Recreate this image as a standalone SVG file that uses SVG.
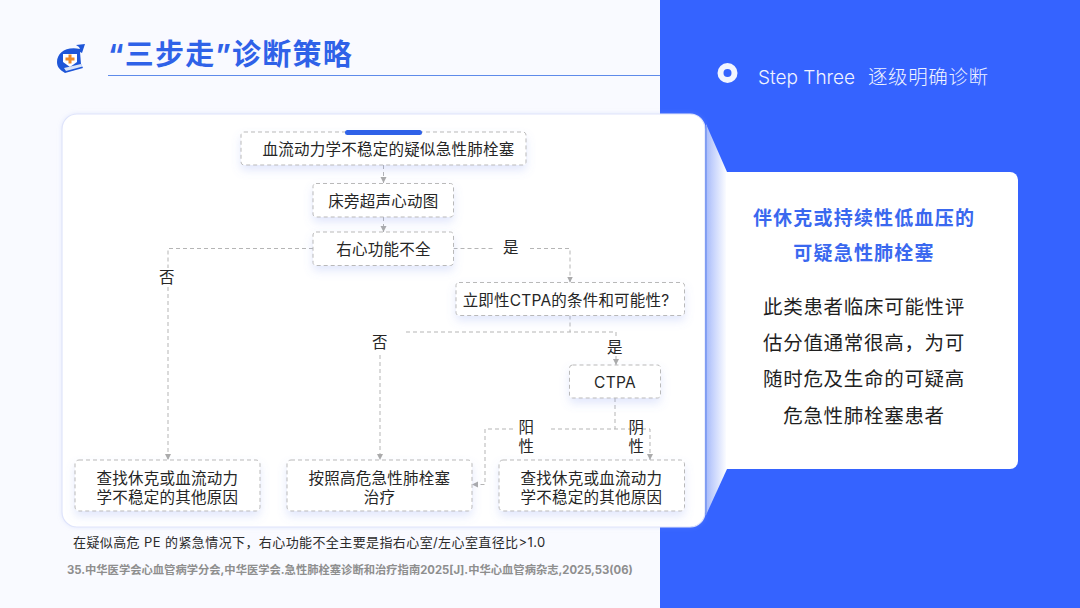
<svg xmlns="http://www.w3.org/2000/svg" width="1080" height="608" viewBox="0 0 1080 608">
<style>
text{font-family:Inter,"Noto Sans CJK SC",sans-serif;}
.c{text-anchor:middle}
.t{font-size:15.5px;fill:#262626;letter-spacing:.25px}
.box{fill:#fff;stroke:#b9b9b9;stroke-width:1;stroke-dasharray:4 3}
.ln{fill:none;stroke:#b5b5b5;stroke-width:1;stroke-dasharray:4 3}
.body{font-size:19.5px;fill:#1f1f1f;letter-spacing:.7px}
.hd{font-size:19px;font-weight:700;fill:#3a68ef;letter-spacing:1.2px}
</style>
<defs>
<filter id="sh" x="-20%" y="-30%" width="140%" height="180%"><feDropShadow dx="0" dy="5" stdDeviation="5" flood-color="#6f8cf0" flood-opacity=".2"/></filter>
<filter id="cs" x="-5%" y="-5%" width="110%" height="110%"><feDropShadow dx="0" dy="0" stdDeviation="2" flood-color="#9fb2f5" flood-opacity=".25"/></filter>
<linearGradient id="fold" x1="0" x2="1" y1="0" y2="0"><stop offset="0" stop-color="#a9bcfb"/><stop offset="1" stop-color="#ffffff"/></linearGradient>
<marker id="ar" markerUnits="userSpaceOnUse" markerWidth="7" markerHeight="7" refX="6" refY="3.5" orient="auto"><path d="M0 .5L6 3.5L0 6.500Z" fill="#ababab"/></marker>
</defs>
<rect width="1080" height="608" fill="#f9faff"/>
<rect x="660" width="420" height="608" fill="#3563ff"/>
<line x1="108" y1="75.500" x2="660" y2="75.500" stroke="#5f8bea" stroke-width="1"/>
<g id="icon">
<path d="M80 49C66 46 57 53 57 62C57 67 60 70 65 73L83 68L81 64L80 52L82 53L85 44L76 45L79 47Z" fill="#1f56d8"/>
<path d="M63 54H77V62L70 67L63 62Z" fill="#fff"/>
<path d="M68.500 54.500h3v3h3v3h-3v3h-3v-3h-3v-3h3Z" fill="#f08a24"/>
<path d="M64 68L81 64L82.500 66.500L66 71Z" fill="#dbe5fa"/>
</g>
<text x="108" y="65" style="font-size:29px;font-weight:700;fill:#2f62e8;letter-spacing:1.2px">“三步走”诊断策略</text>
<g id="step">
<circle cx="727.500" cy="73" r="10" fill="#f2f5ff"/><circle cx="727.500" cy="73" r="4" fill="#3563ff"/>
<text x="758" y="84" style="font-size:19px;font-weight:300;fill:#f0f3ff">Step Three</text>
<text x="868" y="84" style="font-size:19.500px;font-weight:300;fill:#f0f3ff;letter-spacing:.6px">逐级明确诊断</text>
</g>
<g id="fold-panel"><path d="M706 124L727 172V469L706 515Z" fill="url(#fold)"/></g>
<g id="info">
<path d="M726 172H1010A8 8 0 0 1 1018 180V461A8 8 0 0 1 1010 469H726Z" fill="#fff"/>
<text class="c hd" x="864" y="225">伴休克或持续性低血压的</text>
<text class="c hd" x="864" y="260">可疑急性肺栓塞</text>
<text class="c body" x="864" y="314">此类患者临床可能性评</text>
<text class="c body" x="864" y="350">估分值通常很高，为可</text>
<text class="c body" x="864" y="386">随时危及生命的可疑高</text>
<text class="c body" x="864" y="423">危急性肺栓塞患者</text>
</g>
<g id="panel"><rect x="62" y="114" width="643" height="413" rx="15" fill="#fff" stroke="#dfe4fb" stroke-width="1.200" filter="url(#cs)"/></g>
<line x1="706" y1="126" x2="706" y2="514" stroke="#5f84ea" stroke-width="1"/>
<g id="connectors">
<path class="ln" d="M383.500 165V183" marker-end="url(#ar)"/>
<path class="ln" d="M383.500 217V232" marker-end="url(#ar)"/>
<path class="ln" d="M313 248.500H168V268"/>
<path class="ln" d="M168 287V460" marker-end="url(#ar)"/>
<path class="ln" d="M453.500 248.500H495"/>
<path class="ln" d="M530 248.500H570V282.500" marker-end="url(#ar)"/>
<path class="ln" d="M570 315.500V332"/>
<path class="ln" d="M406 332H616V337"/>
<path class="ln" d="M616 356V365" marker-end="url(#ar)"/>
<path class="ln" d="M380 355V460" marker-end="url(#ar)"/>
<path class="ln" d="M615 398V429"/>
<path class="ln" d="M551 429H650V460" marker-end="url(#ar)"/>
<path class="ln" d="M513 429H485V484.500H472" marker-end="url(#ar)"/>
</g>
<g id="n1"><rect class="box" x="241" y="132" width="285" height="33" rx="3" filter="url(#sh)"/><text class="c t" x="388.500" y="155">血流动力学不稳定的疑似急性肺栓塞</text></g>
<rect x="345" y="130" width="77" height="5" rx="2.500" fill="#2f62e8"/>
<g id="n2"><rect class="box" x="313" y="183.500" width="140.500" height="33.500" rx="3" filter="url(#sh)"/><text class="c t" x="383.500" y="206.500">床旁超声心动图</text></g>
<g id="n3"><rect class="box" x="313" y="232" width="140.500" height="33.500" rx="3" filter="url(#sh)"/><text class="c t" x="383.500" y="255">右心功能不全</text></g>
<g id="n4"><rect class="box" x="456" y="282.500" width="228.500" height="33" rx="3" filter="url(#sh)"/><text class="c t" x="566" y="305.500" style="letter-spacing:.2px">立即性CTPA的条件和可能性?</text></g>
<g id="n5"><rect class="box" x="569.500" y="365" width="91" height="33" rx="3" filter="url(#sh)"/><text class="c t" x="615" y="388">CTPA</text></g>
<g id="n6"><rect class="box" x="287" y="460" width="185" height="51" rx="4" filter="url(#sh)"/><text class="c t" x="379.500" y="484">按照高危急性肺栓塞</text><text class="c t" x="379.500" y="503">治疗</text></g>
<g id="n7"><rect class="box" x="499" y="460" width="185.500" height="51" rx="4" filter="url(#sh)"/><text class="c t" x="591.500" y="484">查找休克或血流动力</text><text class="c t" x="591.500" y="503">学不稳定的其他原因</text></g>
<g id="n8"><rect class="box" x="75" y="460" width="185" height="51" rx="4" filter="url(#sh)"/><text class="c t" x="167.500" y="484">查找休克或血流动力</text><text class="c t" x="167.500" y="503">学不稳定的其他原因</text></g>
<g id="labels">
<text class="c t" x="167" y="283">否</text>
<text class="c t" x="511" y="253">是</text>
<text class="c t" x="380" y="348">否</text>
<text class="c t" x="615" y="353">是</text>
<text class="c t" x="526.500" y="433">阳</text><text class="c t" x="526.500" y="452">性</text>
<text class="c t" x="636.500" y="433">阴</text><text class="c t" x="636.500" y="452">性</text>
</g>
<text x="73" y="547" style="font-size:13px;fill:#2b2b2b;letter-spacing:.4px">在疑似高危 PE 的紧急情况下，右心功能不全主要是指右心室/左心室直径比&gt;1.0</text>
<text x="67" y="574" style="font-size:11.300px;font-weight:700;fill:#8e8e8e">35.中华医学会心血管病学分会,中华医学会.急性肺栓塞诊断和治疗指南2025[J].中华心血管病杂志,2025,53(06)</text>
</svg>
